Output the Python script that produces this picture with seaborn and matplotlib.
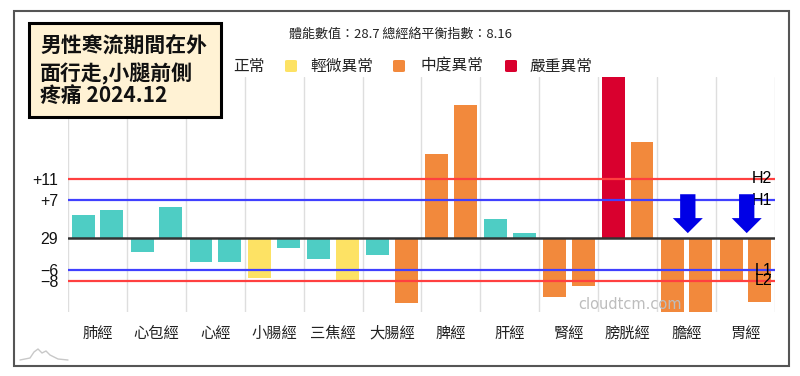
import matplotlib
matplotlib.use("Agg")
import matplotlib.pyplot as plt
import matplotlib.patches as mpatches
from matplotlib.lines import Line2D
import numpy as np
import pandas as pd
import seaborn as sns

# ---------------- data ----------------
meridians = ['肺經', '心包經', '心經', '小腸經', '三焦經', '大腸經',
             '脾經', '肝經', '腎經', '膀胱經', '膽經', '胃經']
left_vals = [4.2, -2.7, -4.5, -7.5, -4.0, -3.1, 15.6, 3.5, -11.0, 30.0, -13.8, -8.2]
right_vals = [5.3, 5.8, -4.5, -1.8, -7.9, -12.1, 24.8, 0.9, -9.0, 17.9, -13.8, -11.9]
left_level = ['正常', '正常', '正常', '輕微異常', '正常', '正常',
              '中度異常', '正常', '中度異常', '嚴重異常', '中度異常', '中度異常']
right_level = ['正常', '正常', '正常', '正常', '輕微異常', '中度異常',
               '中度異常', '正常', '中度異常', '中度異常', '中度異常', '中度異常']
levels = ['正常', '輕微異常', '中度異常', '嚴重異常']
level_colors = ['#4ECDC4', '#FDE264', '#F2893C', '#D9002E']
ref_values = [11, 7, 0, -6, -8]
ref_ticklabels = ['+11', '+7', '29', '−6', '−8']
ref_colors = ['#FF4040', '#4040FF', '#333333', '#4040FF', '#FF4040']
ref_names = ['H2', 'H1', '', 'L1', 'L2']
arrow_targets = ['膽經', '胃經']
stats_text = '體能數值：28.7 總經絡平衡指數：8.16'
title_lines = ['男性寒流期間在外', '面行走,小腿前側', '疼痛 2024.12']
watermark = 'cloudtcm.com'

# ---------------- style ----------------
sns.set_theme(style='white')
plt.rcParams['font.family'] = ['Noto Sans CJK TC', 'DejaVu Sans']
plt.rcParams['axes.unicode_minus'] = True

W, H = 800, 376
fig = plt.figure(figsize=(W / 100, H / 100), dpi=100)
fig.patch.set_facecolor('white')


def fx(x):
    return x / W


def fy(y):
    return 1 - y / H


ax = fig.add_axes([fx(68), fy(312), fx(775) - fx(68), fy(77) - fy(312)])
ax.set_facecolor('none')

df = pd.DataFrame({
    'meridian': meridians * 2,
    'side': ['L'] * len(meridians) + ['R'] * len(meridians),
    'value': left_vals + right_vals,
})
sns.barplot(data=df, x='meridian', y='value', hue='side', order=meridians,
            hue_order=['L', 'R'], width=0.97, gap=0.2, errorbar=None,
            legend=False, ax=ax, zorder=2)

cmap = dict(zip(levels, level_colors))
for cont, lv in zip(ax.containers, [left_level, right_level]):
    for patch, lev in zip(cont.patches, lv):
        patch.set_facecolor(cmap[lev])
        patch.set_edgecolor('none')

ax.set_xlim(-0.5, len(meridians) - 0.5)
ax.set_ylim(-13.8, 30.0)

# vertical grid at category boundaries
ax.set_xticks(np.arange(-0.5, len(meridians), 1.0), minor=True)
ax.grid(True, which='minor', axis='x', color='#DEDEDE', lw=1.0, zorder=0)
ax.grid(False, which='major')
ax.tick_params(axis='x', which='minor', length=0)

for sp in ax.spines.values():
    sp.set_visible(False)

# reference lines
for v, c, n in zip(ref_values, ref_colors, ref_names):
    ax.axhline(v, color=c, lw=1.6 if v != 0 else 1.8, zorder=3)
ax.set_yticks(ref_values)
ax.set_yticklabels(ref_ticklabels, family=['Liberation Sans', 'DejaVu Sans'],
                   fontsize=11.5, color='#111111')
ax.tick_params(axis='y', length=0, pad=7)
ax.tick_params(axis='x', which='major', length=0, pad=9, labelsize=11,
               labelcolor='#222222')
ax.set_xlabel('')
ax.set_ylabel('')

# line names
for v, n in zip(ref_values, ref_names):
    if n:
        ax.text(11.45, v, n, ha='right', va='center', fontsize=11.5,
                family=['Liberation Sans', 'DejaVu Sans'], color='black',
                zorder=4)

# arrows
for name in arrow_targets:
    xi = meridians.index(name)
    ax.arrow(xi + 0.02, 8.15, 0, -7.25, width=0.26, head_width=0.51,
             head_length=2.8, length_includes_head=True, color='#0000E6',
             ec='none', zorder=5)

# watermark
ax.text(0.795, 0.03, watermark, transform=ax.transAxes, ha='center',
        va='center', fontsize=10.5, color='#BDBDBD',
        family=['DejaVu Sans'], zorder=6)

# ---------------- figure decorations ----------------
# outer frame
fig.add_artist(mpatches.Rectangle((fx(14), fy(366)), fx(789) - fx(14),
                                  fy(11) - fy(366), transform=fig.transFigure,
                                  fill=False, ec='#555555', lw=1.5, zorder=1))

# stats text
fig.text(fx(400), fy(34), stats_text, ha='center', va='center', fontsize=9.4,
         color='#222222')

# legend
sq_x = [208, 285, 393, 505]
tx_x = [233, 310, 420, 530]
for lev, col, sx, tx in zip(levels, level_colors, sq_x, tx_x):
    fig.add_artist(mpatches.FancyBboxPatch(
        (fx(sx), fy(72)), fx(12), fy(60) - fy(72),
        boxstyle='round,pad=0,rounding_size=0.003',
        transform=fig.transFigure, fc=col, ec='none', zorder=2))
    fig.text(fx(tx), fy(66), lev, ha='left', va='center', fontsize=11.3,
             color='#222222', zorder=2)

# title box
fig.add_artist(mpatches.Rectangle((fx(29), fy(117)), fx(221) - fx(29),
                                  fy(23) - fy(117), transform=fig.transFigure,
                                  fc='#FFF2D4', ec='black', lw=2.2, zorder=10))
for line, yc in zip(title_lines, [46, 74, 96]):
    fig.text(fx(40), fy(yc), line, ha='left', va='center', fontsize=15,
             fontweight='bold', color='#111111', zorder=11)

# small logo bottom-left
logo_x = np.array([20, 30, 34, 38, 42, 46, 50, 54, 58, 68])
logo_y = np.array([360, 358, 352, 349, 353, 351, 355, 357, 359, 360])
fig.add_artist(Line2D(fx(logo_x), fy(logo_y), transform=fig.transFigure,
                      color='#C8C8C8', lw=1.0))

fig.savefig('out.png', dpi=100, facecolor='white')
